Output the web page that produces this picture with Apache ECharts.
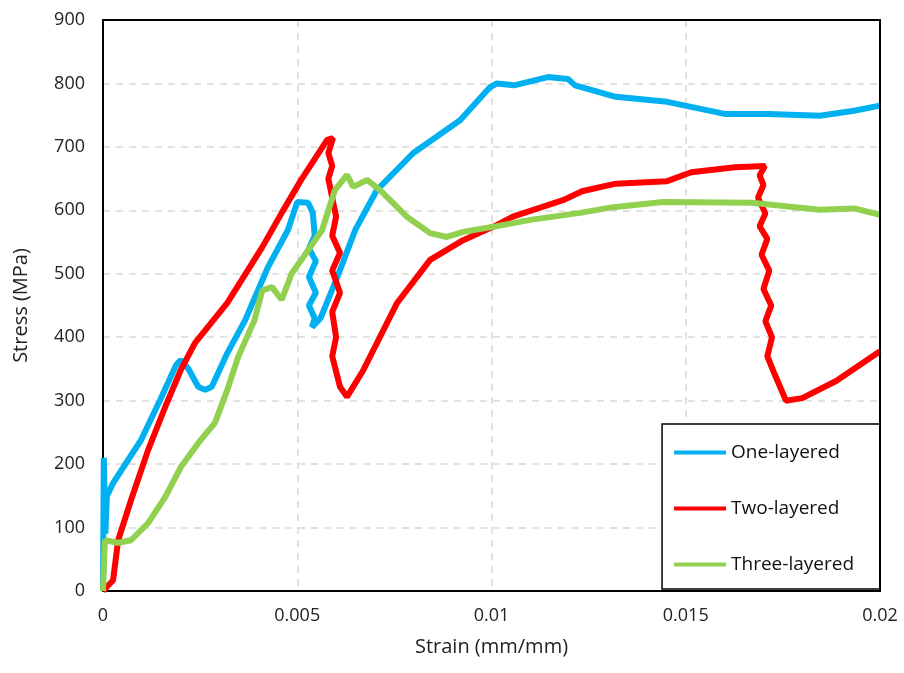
<!DOCTYPE html>
<html>
<head>
<meta charset="utf-8">
<script src="https://cdn.jsdelivr.net/npm/echarts@6/dist/echarts.min.js"></script>
<style>
  html, body { margin: 0; padding: 0; background: #fff; }
  #main { width: 904px; height: 673px; }
</style>
</head>
<body>
<div id="main"></div>
<script>
var seriesNames = ['One-layered', 'Two-layered', 'Three-layered'];
var xTicks = [0, 0.005, 0.01, 0.015, 0.02];
var yTicks = [0, 100, 200, 300, 400, 500, 600, 700, 800, 900];

// strain (mm/mm), stress (MPa)
var oneLayered = [
  [0, 0], [0.00002, 210], [0.00006, 90], [0.0001, 150], [0.00026, 170], [0.00098, 238],
  [0.00147, 301], [0.00188, 356], [0.0020, 364], [0.0022, 350], [0.00245, 322],
  [0.00263, 317], [0.0028, 322], [0.0032, 375], [0.00366, 427], [0.00425, 511],
  [0.00476, 569], [0.0050, 613], [0.00528, 612], [0.0054, 596], [0.00545, 560],
  [0.0053, 540], [0.00548, 520], [0.0053, 495], [0.00548, 470], [0.0053, 450],
  [0.00545, 430], [0.00538, 416], [0.0056, 430], [0.006, 490], [0.0065, 570],
  [0.00705, 632], [0.00798, 690], [0.00919, 742], [0.00996, 794], [0.01014, 800],
  [0.01058, 797], [0.01145, 810], [0.01197, 807], [0.01215, 797], [0.0132, 779],
  [0.01452, 771], [0.0160, 752], [0.01714, 752], [0.01845, 749], [0.01933, 757],
  [0.02, 765]
];
var twoLayered = [
  [0, 0], [0.00026, 17], [0.00039, 80], [0.00072, 143], [0.00116, 222], [0.0016, 290],
  [0.002, 348], [0.00237, 391], [0.0032, 454], [0.0041, 542], [0.0046, 596],
  [0.0051, 648], [0.00577, 711], [0.00592, 714], [0.0058, 690], [0.0059, 670],
  [0.0058, 650], [0.0059, 620], [0.0060, 590], [0.0059, 560], [0.0061, 533],
  [0.0059, 505], [0.0061, 470], [0.0059, 440], [0.0060, 400], [0.0059, 370],
  [0.0061, 322], [0.00628, 306], [0.0067, 348], [0.00757, 454], [0.00842, 522],
  [0.00927, 553], [0.01004, 574], [0.01055, 590], [0.01184, 616], [0.01233, 630],
  [0.0132, 642], [0.01452, 646], [0.01514, 660], [0.01627, 668], [0.01704, 670],
  [0.01690, 655], [0.01700, 640], [0.01686, 620], [0.01705, 595], [0.01690, 575],
  [0.01710, 555], [0.01695, 530], [0.01715, 505], [0.01700, 476], [0.01720, 450],
  [0.01705, 425], [0.01722, 400], [0.01710, 370], [0.0173, 340], [0.01758, 300],
  [0.0180, 304], [0.01887, 331], [0.02, 378]
];
var threeLayered = [
  [0, 0], [0.00005, 80], [0.00039, 76], [0.00072, 80], [0.00116, 107], [0.0016, 148],
  [0.002, 195], [0.00245, 233], [0.00288, 265], [0.0032, 317], [0.00348, 369],
  [0.0039, 427], [0.0041, 474], [0.00435, 479], [0.0046, 459], [0.00486, 501],
  [0.00528, 537], [0.00564, 569], [0.00597, 632], [0.00628, 656], [0.00644, 637],
  [0.0068, 648], [0.00713, 632], [0.00782, 590], [0.00842, 564], [0.00885, 558],
  [0.00927, 566], [0.01004, 574], [0.011, 585], [0.01228, 596], [0.01313, 605],
  [0.01442, 613], [0.0167, 612], [0.01845, 601], [0.01933, 603], [0.02, 593]
];

var colors = ['#00b0f0', '#ff0000', '#92d050'];
var dataSets = [oneLayered, twoLayered, threeLayered];
var fontFamily = '"Open Sans", "Liberation Sans", sans-serif';

var myChart = echarts.init(document.getElementById('main'));

var series = seriesNames.map(function (name, i) {
  return {
    name: name,
    type: 'line',
    data: dataSets[i],
    showSymbol: false,
    lineStyle: { color: colors[i], width: 6 },
    itemStyle: { color: colors[i] }
  };
});

var grid = { left: 103, right: 24, top: 20, bottom: 82 };
var gridLine = { show: true, lineStyle: { color: '#d9d9d9', width: 1.5, type: [7, 6] } };
var frame = { show: true, onZero: false, lineStyle: { color: '#000', width: 2 } };

var option = {
  backgroundColor: '#fff',
  animation: false,
  textStyle: { fontFamily: fontFamily },
  grid: grid,
  legend: {
    orient: 'vertical',
    right: 24,
    bottom: 84,
    padding: [19, 26, 15, 12],
    itemGap: 37,
    itemWidth: 52,
    itemHeight: 22,
    backgroundColor: '#fff',
    borderColor: '#000',
    borderWidth: 1.5,
    icon: 'path://M0,9 L52,9 L52,13 L0,13 Z',
    textStyle: { fontSize: 19, color: '#111', fontFamily: fontFamily },
    data: seriesNames
  },
  xAxis: [{
    type: 'value',
    min: xTicks[0],
    max: xTicks[xTicks.length - 1],
    interval: 0.005,
    name: 'Strain (mm/mm)',
    nameLocation: 'middle',
    nameGap: 46,
    nameTextStyle: { fontSize: 20, color: '#222' },
    axisLine: frame,
    axisTick: { show: false },
    axisLabel: {
      fontSize: 18, color: '#222', margin: 16,
      formatter: function (v) {
        var t = xTicks.filter(function (x) { return Math.abs(x - v) < 1e-9; });
        return t.length ? String(t[0]) : '';
      }
    },
    splitLine: gridLine
  }, {
    // top edge of the plot frame
    type: 'value', position: 'top', min: 0, max: 0.02, z: 10,
    axisLine: frame, axisTick: { show: false }, axisLabel: { show: false }, splitLine: { show: false }
  }],
  yAxis: [{
    type: 'value',
    min: yTicks[0],
    max: yTicks[yTicks.length - 1],
    interval: 100,
    name: 'Stress (MPa)',
    nameLocation: 'middle',
    nameGap: 72,
    nameTextStyle: { fontSize: 20, color: '#222' },
    axisLine: frame,
    axisTick: { show: false },
    axisLabel: { fontSize: 18, color: '#222', margin: 18 },
    splitLine: gridLine
  }, {
    // right edge of the plot frame
    type: 'value', position: 'right', min: 0, max: 900, z: 10,
    axisLine: frame, axisTick: { show: false }, axisLabel: { show: false }, splitLine: { show: false }
  }],
  series: series
};

myChart.setOption(option);
</script>
</body>
</html>
